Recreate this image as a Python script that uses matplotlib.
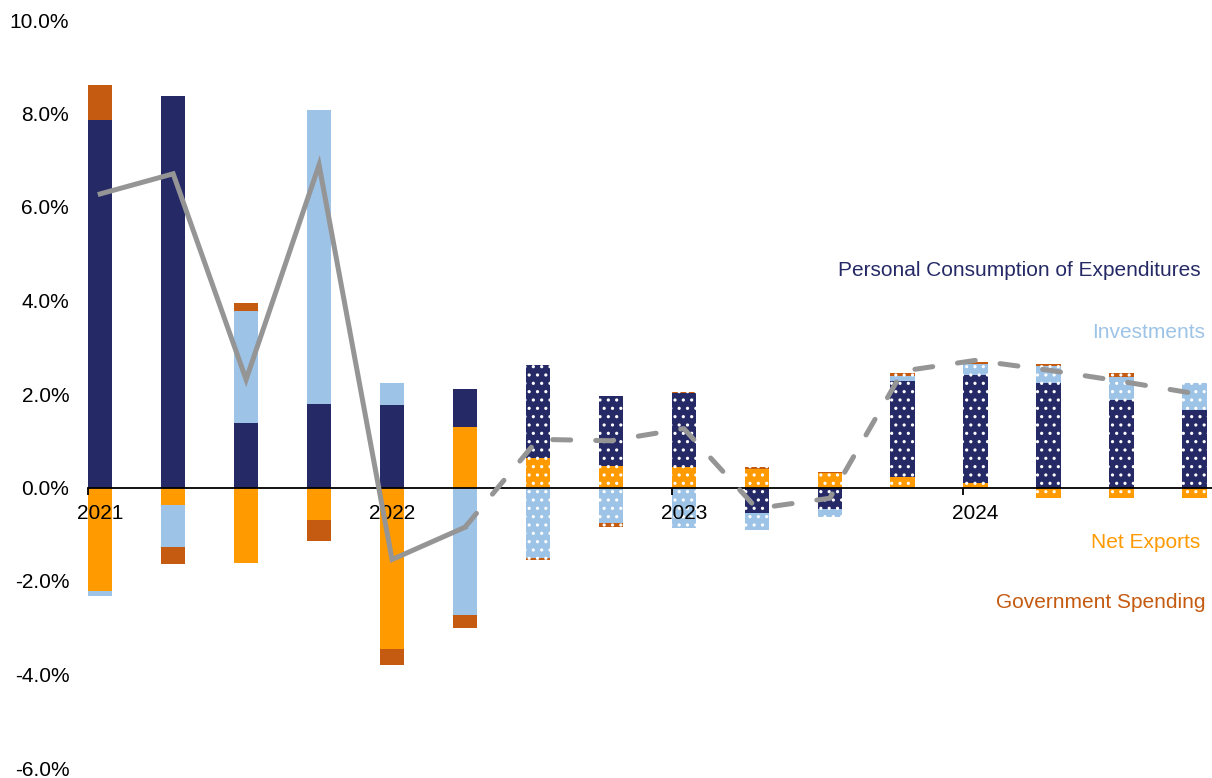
import numpy as np
import matplotlib.pyplot as plt

# quarterly contributions to real GDP growth (percentage points, annualized)
quarters = ["2021Q1", "2021Q2", "2021Q3", "2021Q4",
            "2022Q1", "2022Q2", "2022Q3", "2022Q4",
            "2023Q1", "2023Q2", "2023Q3", "2023Q4",
            "2024Q1", "2024Q2", "2024Q3", "2024Q4"]
net_exports = [-2.22, -0.38, -1.61, -0.70, -3.46, 1.30, 0.63, 0.46,
               0.43, 0.40, 0.31, 0.22, 0.10, -0.22, -0.22, -0.22]
pce = [7.86, 8.38, 1.39, 1.79, 1.77, 0.81, 1.99, 1.49,
       1.59, -0.54, -0.46, 2.05, 2.31, 2.24, 1.88, 1.65]
investment = [-0.11, -0.90, 2.39, 6.29, 0.46, -2.72, -1.50, -0.75,
              -0.86, -0.37, -0.17, 0.11, 0.23, 0.35, 0.49, 0.59]
government = [0.75, -0.35, 0.17, -0.45, -0.34, -0.29, -0.06, -0.10,
              0.03, 0.03, 0.02, 0.06, 0.05, 0.06, 0.08, 0.00]
gdp_growth = [6.28, 6.71, 2.31, 6.90, -1.54, -0.85, 1.03, 1.00,
              1.26, -0.45, -0.23, 2.49, 2.72, 2.51, 2.27, 2.01]
year_labels = ["2021", "2022", "2023", "2024"]
forecast_start = 6  # first projected quarter

NAVY = "#252a67"
LIGHT_BLUE = "#9dc3e6"
ORANGE = "#ff9a00"
RUST = "#c55a11"
GREY = "#959595"

plt.rcParams["font.family"] = ["Liberation Sans", "DejaVu Sans"]
plt.rcParams["hatch.linewidth"] = 1.1

fig = plt.figure(figsize=(12.12, 7.78), dpi=100)
ax = fig.add_axes([88 / 1212, 10 / 778, 1 - 88 / 1212, 748 / 778])

x = np.arange(len(quarters))
width = 0.335
pos_base = np.zeros(len(x))
neg_base = np.zeros(len(x))

# stacked bars, positives and negatives stacked separately
for values, color in [(net_exports, ORANGE), (pce, NAVY),
                      (investment, LIGHT_BLUE), (government, RUST)]:
    v = np.array(values)
    bottom = np.where(v >= 0, pos_base, neg_base)
    bars = ax.bar(x, v, width, bottom=bottom, color=color, linewidth=0, zorder=2)
    for i, patch in enumerate(bars.patches):
        if i >= forecast_start:
            patch.set_hatch("..")
            patch.set_edgecolor("white")
            patch.set_linewidth(0)
    pos_base += np.where(v >= 0, v, 0)
    neg_base += np.where(v < 0, v, 0)

# actual growth solid, projection dashed
split = forecast_start - 1
ax.plot(x[:split + 1], gdp_growth[:split + 1], color=GREY, lw=3.6,
        solid_joinstyle="miter", zorder=4)
ax.plot(x[split:], gdp_growth[split:], color=GREY, lw=3.6,
        dashes=(3.6, 5.0), dash_capstyle="round", dash_joinstyle="round", zorder=4)

ax.set_ylim(-6, 10)
ax.set_xlim(-width / 2, 15.24)
ax.set_yticks(np.arange(-6, 11, 2))
ax.set_yticklabels([f"{v:.1f}%" for v in np.arange(-6, 11, 2)])
ax.tick_params(axis="y", length=0, pad=13.5, labelsize=15)

year_pos = x[::4]
ax.set_xticks(year_pos)
ax.set_xticklabels(year_labels)
ax.set_xticks(year_pos - width / 2, minor=True)
ax.tick_params(axis="x", which="major", length=0, pad=12, labelsize=15)
ax.tick_params(axis="x", which="minor", length=5, width=1.3, direction="out")
ax.xaxis.set_zorder(3)

for side in ["top", "right", "left"]:
    ax.spines[side].set_visible(False)
ax.spines["bottom"].set_position(("data", 0))
ax.spines["bottom"].set_linewidth(1.3)
ax.spines["bottom"].set_zorder(3)

# series names on the right
label_x = 15.08
ax.text(label_x, 4.64, "Personal Consumption of Expenditures", color=NAVY,
        fontsize=15, ha="right", va="center")
ax.text(label_x + 0.07, 3.31, "Investments", color=LIGHT_BLUE,
        fontsize=15, ha="right", va="center")
ax.text(label_x, -1.18, "Net Exports", color=ORANGE,
        fontsize=15, ha="right", va="center")
ax.text(label_x + 0.07, -2.46, "Government Spending", color=RUST,
        fontsize=15, ha="right", va="center")

fig.savefig("out.png", dpi=100)
